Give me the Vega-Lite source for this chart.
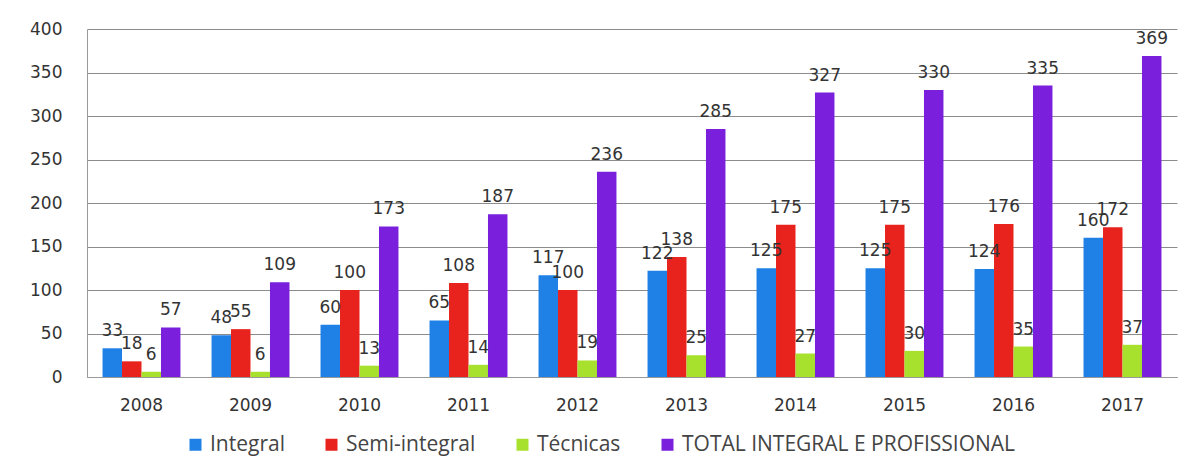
{
  "$schema": "https://vega.github.io/schema/vega-lite/v6.json",
  "width": 1090,
  "height": 348,
  "autosize": {"type": "none"},
  "padding": {"left": 87, "top": 29, "right": 16, "bottom": 95},
  "background": "white",
  "config": {
    "view": {"stroke": null},
    "axis": {"labelFont": "DejaVu Sans", "labelColor": "#333333", "labelFontSize": 17, "ticks": false, "domainColor": "#999999", "gridColor": "#8c8c8c", "title": null}
  },
  "data": {
    "values": [
      {"ano": "2008", "serie": "Integral", "valor": 33},
      {"ano": "2008", "serie": "Semi-integral", "valor": 18},
      {"ano": "2008", "serie": "Técnicas", "valor": 6},
      {"ano": "2008", "serie": "TOTAL INTEGRAL  E PROFISSIONAL", "valor": 57},
      {"ano": "2009", "serie": "Integral", "valor": 48},
      {"ano": "2009", "serie": "Semi-integral", "valor": 55},
      {"ano": "2009", "serie": "Técnicas", "valor": 6},
      {"ano": "2009", "serie": "TOTAL INTEGRAL  E PROFISSIONAL", "valor": 109},
      {"ano": "2010", "serie": "Integral", "valor": 60},
      {"ano": "2010", "serie": "Semi-integral", "valor": 100},
      {"ano": "2010", "serie": "Técnicas", "valor": 13},
      {"ano": "2010", "serie": "TOTAL INTEGRAL  E PROFISSIONAL", "valor": 173},
      {"ano": "2011", "serie": "Integral", "valor": 65},
      {"ano": "2011", "serie": "Semi-integral", "valor": 108},
      {"ano": "2011", "serie": "Técnicas", "valor": 14},
      {"ano": "2011", "serie": "TOTAL INTEGRAL  E PROFISSIONAL", "valor": 187},
      {"ano": "2012", "serie": "Integral", "valor": 117},
      {"ano": "2012", "serie": "Semi-integral", "valor": 100},
      {"ano": "2012", "serie": "Técnicas", "valor": 19},
      {"ano": "2012", "serie": "TOTAL INTEGRAL  E PROFISSIONAL", "valor": 236},
      {"ano": "2013", "serie": "Integral", "valor": 122},
      {"ano": "2013", "serie": "Semi-integral", "valor": 138},
      {"ano": "2013", "serie": "Técnicas", "valor": 25},
      {"ano": "2013", "serie": "TOTAL INTEGRAL  E PROFISSIONAL", "valor": 285},
      {"ano": "2014", "serie": "Integral", "valor": 125},
      {"ano": "2014", "serie": "Semi-integral", "valor": 175},
      {"ano": "2014", "serie": "Técnicas", "valor": 27},
      {"ano": "2014", "serie": "TOTAL INTEGRAL  E PROFISSIONAL", "valor": 327},
      {"ano": "2015", "serie": "Integral", "valor": 125},
      {"ano": "2015", "serie": "Semi-integral", "valor": 175},
      {"ano": "2015", "serie": "Técnicas", "valor": 30},
      {"ano": "2015", "serie": "TOTAL INTEGRAL  E PROFISSIONAL", "valor": 330},
      {"ano": "2016", "serie": "Integral", "valor": 124},
      {"ano": "2016", "serie": "Semi-integral", "valor": 176},
      {"ano": "2016", "serie": "Técnicas", "valor": 35},
      {"ano": "2016", "serie": "TOTAL INTEGRAL  E PROFISSIONAL", "valor": 335},
      {"ano": "2017", "serie": "Integral", "valor": 160},
      {"ano": "2017", "serie": "Semi-integral", "valor": 172},
      {"ano": "2017", "serie": "Técnicas", "valor": 37},
      {"ano": "2017", "serie": "TOTAL INTEGRAL  E PROFISSIONAL", "valor": 369}
    ]
  },
  "encoding": {
    "x": {"field": "ano", "type": "nominal", "scale": {"paddingInner": 0.285, "paddingOuter": 0.1425}, "axis": {"labelAngle": 0, "labelPadding": 20, "domainColor": "#999999", "labelFontSize": 17}},
    "xOffset": {"field": "serie", "type": "nominal", "sort": ["Integral", "Semi-integral", "Técnicas", "TOTAL INTEGRAL  E PROFISSIONAL"]},
    "y": {"field": "valor", "type": "quantitative", "scale": {"domain": [0, 400]}, "axis": {"values": [0, 50, 100, 150, 200, 250, 300, 350, 400], "labelPadding": 25, "grid": true}}
  },
  "layer": [
    {
      "mark": {"type": "bar"},
      "encoding": {
        "color": {
          "field": "serie", "type": "nominal",
          "scale": {"domain": ["Integral", "Semi-integral", "Técnicas", "TOTAL INTEGRAL  E PROFISSIONAL"], "range": ["#1f80e6", "#e8231d", "#a8e02e", "#7a20dc"]},
          "legend": {
            "title": null, "orient": "none", "direction": "horizontal", "legendX": 98, "legendY": 405,
            "symbolType": "square", "symbolSize": 144, "symbolStrokeWidth": 0, "symbolOpacity": 1,
            "labelFont": "Open Sans", "labelFontSize": 21, "labelColor": "#444444", "labelOffset": 4, "labelLimit": 0, "columnPadding": 36
          }
        }
      }
    },
    {
      "mark": {"type": "text", "baseline": "middle", "dy": -17, "font": "DejaVu Sans", "fontSize": 17, "color": "#333333"},
      "encoding": {
        "text": {"field": "valor", "type": "quantitative"},
        "fontWeight": {"condition": {"test": "datum.serie === 'TOTAL INTEGRAL  E PROFISSIONAL'", "value": "bold"}, "value": "normal"}
      }
    }
  ]
}
